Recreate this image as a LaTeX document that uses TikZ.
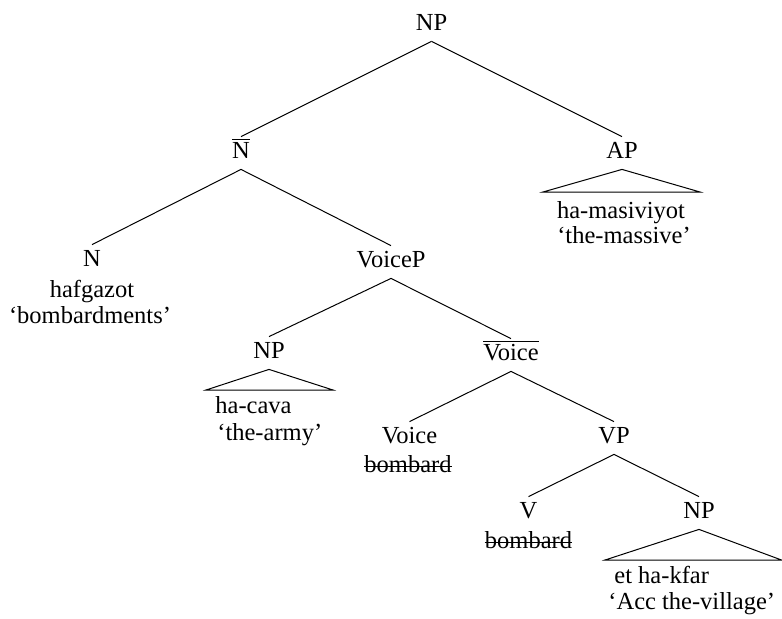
\documentclass[tikz,border=0pt]{standalone}
\usepackage{fontspec}
\setmainfont{Liberation Serif}
\tikzset{
	cat/.style={anchor=base, inner xsep=1pt, inner ysep=2pt, text height=8.5pt, text depth=3.5pt},
	gloss/.style={anchor=base, inner sep=0pt},
	glossl/.style={anchor=base west, inner sep=0pt},
	branch/.style={line width=0.5pt},
	strike/.style={line width=0.5pt}
}

\begin{document}
\begin{tikzpicture}[x=0.5pt, y=-0.5pt, font=\fontsize{12.25}{13}\selectfont]
			%%%%% START %%%%%
			\useasboundingbox (0,0) rectangle (782,618);
			
			\node[cat] (np) at (431.5, 30) {NP};
			\node[cat] (nbar) at (241, 158) {$\overline{\mbox{N}}$};
			\node[cat] (ap) at (622, 158) {AP};
			
			\node[cat] (n) at (92, 266) {N};
			\node[gloss] (n-w1) at (92, 297) {hafgazot};
			\node[gloss] (n-w2) at (90, 323) {`bombardments'};
			
			\node[cat] (voicep) at (391, 267) {VoiceP};
			
			\node[cat] (np2) at (269, 358) {NP};
			\node[glossl] (np2-w1) at (215, 413) {ha-cava};
			\node[glossl] (np2-w2) at (217, 440) {`the-army'};
			
			\node[cat] (vbar) at (511, 360) {$\overline{\mbox{Voice}}$};
			
			\node[cat] (voice) at (409.5, 443) {Voice};
			\node[gloss] (voice-w) at (408, 472) {bombard};
			\node[cat] (vp) at (614, 443) {VP};
			
			\node[cat] (v) at (528.5, 518) {V};
			\node[gloss] (v-w) at (528.5, 548) {bombard};
			\node[cat] (np3) at (699, 518) {NP};
			\node[glossl] (np3-w1) at (614, 583) {et ha-kfar};
			\node[glossl] (np3-w2) at (608, 609) {`Acc the-village'};
			
			\node[gloss] (ap-w1) at (621, 218) {ha-masiviyot};
			\node[gloss] (ap-w2) at (624, 243) {`the-massive'};
			
			% struck-out copies
			\draw[strike] ([yshift=3pt]voice-w.base west) -- ([yshift=3pt]voice-w.base east);
			\draw[strike] ([yshift=3pt]v-w.base west) -- ([yshift=3pt]v-w.base east);
			
			% branches
			\draw[branch] (np.south) -- (nbar.north);
			\draw[branch] (np.south) -- (ap.north);
			\draw[branch] (nbar.south) -- (n.north);
			\draw[branch] (nbar.south) -- (voicep.north);
			\draw[branch] (voicep.south) -- (np2.north);
			\draw[branch] (voicep.south) -- (vbar.north);
			\draw[branch] (vbar.south) -- (voice.north);
			\draw[branch] (vbar.south) -- (vp.north);
			\draw[branch] (vp.south) -- (v.north);
			\draw[branch] (vp.south) -- (np3.north);
			
			% roofs
			\coordinate (ap-l) at (543, 192);
			\coordinate (ap-r) at (700, 192);
			\draw[branch] (ap.south) -- (ap-l) -- (ap-r) -- cycle;
			\coordinate (np2-l) at (206, 390);
			\coordinate (np2-r) at (333, 390);
			\draw[branch] (np2.south) -- (np2-l) -- (np2-r) -- cycle;
			\coordinate (np3-l) at (605, 560);
			\coordinate (np3-r) at (781.5, 560);
			\draw[branch] (np3.south) -- (np3-l) -- (np3-r) -- cycle;
			
			%%%%% END %%%%%
\end{tikzpicture}
\end{document}
